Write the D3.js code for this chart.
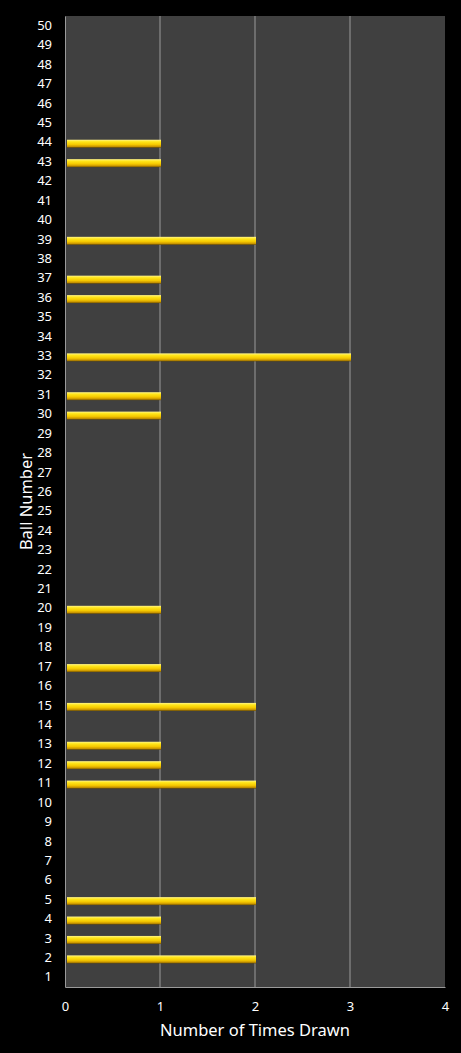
<!DOCTYPE html>
<html><head><meta charset="utf-8">
<script src="https://cdn.jsdelivr.net/npm/d3@7"></script>
<style>html,body{margin:0;padding:0;background:#000;}svg{display:block;}</style>
</head><body>
<script>
const balls = d3.range(1, 51);
const drawnBalls = [2, 3, 4, 5, 11, 12, 13, 15, 17, 20, 30, 31, 33, 36, 37, 39, 43, 44];
const drawnCounts = [2, 1, 1, 2, 2, 1, 1, 2, 1, 1, 1, 1, 3, 1, 1, 2, 1, 1];
const xTicks = [0, 1, 2, 3, 4];

const W = 461, H = 1053;
const m = {left: 65, right: 16, top: 16, bottom: 66};
const svg = d3.select("body").append("svg").attr("width", W).attr("height", H);
svg.append("rect").attr("width", W).attr("height", H).attr("fill", "#000");

const x = d3.scaleLinear().domain([0, 4]).range([m.left, W - m.right]);
const y = d3.scaleBand().domain(balls.slice().reverse()).range([m.top, H - m.bottom]);

const defs = svg.append("defs");
const g = defs.append("linearGradient").attr("id", "gold").attr("x1", 0).attr("y1", 0).attr("x2", 0).attr("y2", 1);
[[0, "#fff38a"], [0.25, "#ffe61a"], [0.6, "#f5c800"], [0.85, "#c99500"], [1, "#6b4e00"]]
  .forEach(([o, c]) => g.append("stop").attr("offset", o).attr("stop-color", c));

svg.append("rect").attr("x", m.left).attr("y", m.top)
  .attr("width", x(4) - x(0)).attr("height", H - m.bottom - m.top).attr("fill", "#404040");

// gridlines
svg.append("g").selectAll("line").data(xTicks.filter(t => t > 0 && t < 4)).join("line")
  .attr("x1", d => x(d)).attr("x2", d => x(d))
  .attr("y1", m.top).attr("y2", H - m.bottom)
  .attr("stroke", "#9a9a9a").attr("stroke-width", 1);

// bars
const data = drawnBalls.map((b, i) => ({ball: b, count: drawnCounts[i]}));
const barH = 8;
svg.append("g").selectAll("rect").data(data).join("rect")
  .attr("x", x(0) + 2)
  .attr("y", d => y(d.ball) + y.bandwidth() / 2 - barH / 2 + 1.5)
  .attr("width", d => x(d.count) - x(0) - 1)
  .attr("height", barH)
  .attr("fill", "url(#gold)");

// axes
const font = "Noto Sans, sans-serif";
const xAxis = svg.append("g").attr("transform", `translate(0,${H - m.bottom})`)
  .call(d3.axisBottom(x).tickValues(xTicks).tickSize(0).tickPadding(15).tickFormat(d3.format("d")));
xAxis.select(".domain").attr("stroke", "#9a9a9a");
xAxis.selectAll("text").attr("fill", "#fff").attr("font-size", 13).attr("font-family", font);

const yAxis = svg.append("g").attr("transform", `translate(${m.left},0)`)
  .call(d3.axisLeft(y).tickSize(0).tickPadding(13));
yAxis.select(".domain").attr("stroke", "#9a9a9a");
yAxis.selectAll("text").attr("fill", "#fff").attr("font-size", 13).attr("font-family", font);

svg.append("text").attr("x", (x(0) + x(4)) / 2).attr("y", 1036)
  .attr("text-anchor", "middle").attr("fill", "#fff").attr("font-size", 16.5)
  .attr("font-family", font).text("Number of Times Drawn");

svg.append("text").attr("transform", `translate(32,${(m.top + H - m.bottom) / 2}) rotate(-90)`)
  .attr("text-anchor", "middle").attr("fill", "#fff").attr("font-size", 16.5)
  .attr("font-family", font).text("Ball Number");
</script>
</body></html>
